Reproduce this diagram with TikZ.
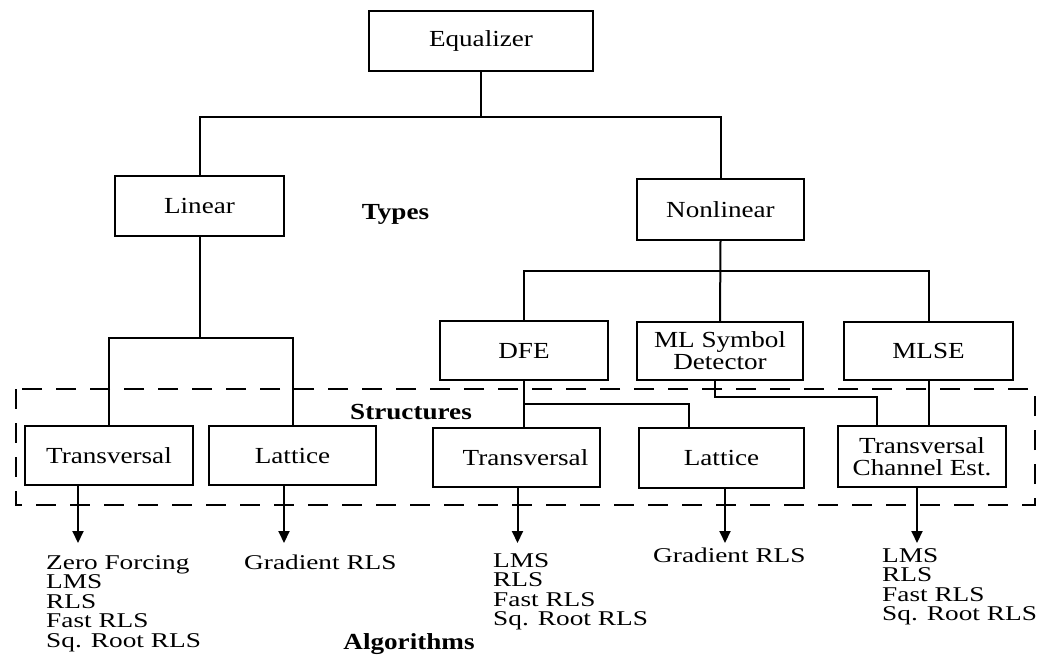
\documentclass[tikz,border=0pt]{standalone}
\usepackage{fontspec}
\setmainfont{Liberation Serif}[FakeStretch=1.18]
\newfontfamily\listfamily{Liberation Serif}[FakeStretch=1.3]
\usetikzlibrary{arrows.meta}
\newcommand{\bxfont}{\fontsize{23}{22}\selectfont}
\newcommand{\algfont}{\listfamily\fontsize{21}{19.6}\selectfont}
\begin{document}
\begin{tikzpicture}[x=1pt,y=-1pt,
  box/.style={draw, line width=2pt, inner sep=0pt, align=center, font=\bxfont},
  conn/.style={draw, line width=2pt},
  arr/.style={draw, line width=2pt, -{Triangle[width=11pt,length=12pt]}},
  alg/.style={inner sep=0pt, align=left, font=\algfont, anchor=north west},
  lbl/.style={inner sep=0pt, font=\bxfont\bfseries, anchor=base},
  frame/.style={draw, line width=2pt, dash pattern=on 20pt off 14pt}]
\useasboundingbox (0,0) rectangle (1038,655);

% boxes
\node[box, minimum width=224pt, minimum height=60pt] (eq) at (481,41) {Equalizer};
\node[box, minimum width=169pt, minimum height=60pt] (lin) at (199.5,206) {Linear};
\node[box, minimum width=167pt, minimum height=60pt] (nonlin) at (720.5,209.5) {Nonlinear};
\node[box, minimum width=168pt, minimum height=59pt] (dfe) at (524,350.5) {DFE};
\node[box, minimum width=166pt, minimum height=58pt] (ml) at (720,351) {ML Symbol\\Detector};
\node[box, minimum width=169pt, minimum height=58pt] (mlse) at (928.5,351) {MLSE};
\node[box, minimum width=168pt, minimum height=59pt] (lt) at (109,455.5) {Transversal};
\node[box, minimum width=167pt, minimum height=59pt] (ll) at (292.5,455.5) {Lattice};
\node[box, minimum width=167pt, minimum height=59pt] (mt) at (516.5,457.5) {\hspace*{18pt}Transversal};
\node[box, minimum width=165pt, minimum height=60pt] (mlat) at (721.5,458) {Lattice};
\node[box, minimum width=168pt, minimum height=61pt] (ch) at (922,456.5) {Transversal\\Channel Est.};

% dashed frame
\draw[frame] (16,389) rectangle (1035,505);

% labels
\node[lbl] (types) at (395.5,219) {Types};
\node[lbl] (struct) at (411,419.5) {Structures};
\node[lbl] (algs) at (409,649) {Algorithms};

% tree connectors
\coordinate (j1) at (481,117);
\draw[conn] (eq.south) -- (j1);
\draw[conn] (lin.north) |- (j1) -| (nonlin.north);
\coordinate (j2) at (199.5,338);
\draw[conn] (lin.south) -- (j2);
\draw[conn] (lt.north) |- (j2) -| (ll.north);
\coordinate (j3) at (720.5,271);
\draw[conn] (nonlin.south) -- (ml.north);
\draw[conn] (dfe.north) |- (j3) -| (mlse.north);
\coordinate (j4) at (524,404);
\draw[conn] (dfe.south) -- (dfe.south |- mt.north);
\draw[conn] (j4) -| ([xshift=-32.5pt]mlat.north);
\coordinate (j5) at (800,397);
\draw[conn] ([xshift=-5pt]ml.south) |- (j5) -| ([xshift=-45pt]ch.north);
\draw[conn] (mlse.south) -- (mlse.south |- ch.north);

% algorithm arrows
\coordinate (t1) at (78,543);
\coordinate (t2) at (284,543);
\coordinate (t3) at (517.5,543);
\coordinate (t4) at (725,543);
\coordinate (t5) at (917,543);
\draw[arr] (lt.south -| t1) -- (t1);
\draw[arr] (ll.south -| t2) -- (t2);
\draw[arr] (mt.south -| t3) -- (t3);
\draw[arr] (mlat.south -| t4) -- (t4);
\draw[arr] (ch.south -| t5) -- (t5);

% algorithm texts
\node[alg] (a1) at (46,555) {Zero Forcing\\LMS\\RLS\\Fast RLS\\Sq. Root RLS};
\node[alg] (a2) at (244,555) {Gradient RLS};
\node[alg] (a3) at (493,553) {LMS\\RLS\\Fast RLS\\Sq. Root RLS};
\node[alg] (a4) at (653,548) {Gradient RLS};
\node[alg] (a5) at (882,548) {LMS\\RLS\\Fast RLS\\Sq. Root RLS};
\end{tikzpicture}
\end{document}
